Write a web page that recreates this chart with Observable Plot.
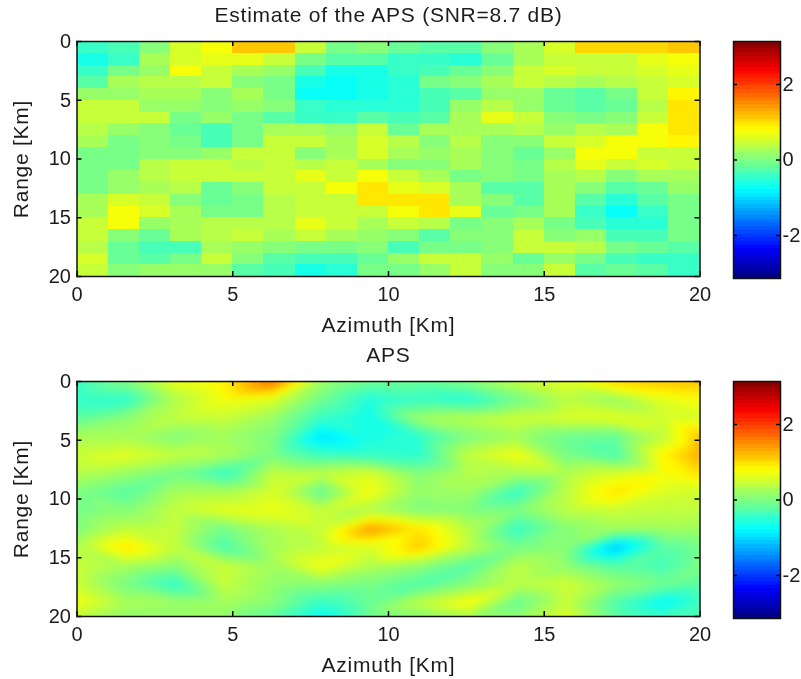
<!DOCTYPE html>
<html>
<head>
<meta charset="utf-8">
<script src="https://cdn.jsdelivr.net/npm/d3@7"></script>
<script src="https://cdn.jsdelivr.net/npm/@observablehq/plot@0.6"></script>
<style>
html,body{margin:0;padding:0;background:#fff;width:801px;height:679px;overflow:hidden}
#page{position:relative;width:801px;height:679px;filter:blur(0.35px)}
#page>svg{position:absolute;display:block;background:transparent}
</style>
</head>
<body>
<div id="page"></div>
<script>
const axisTicks = [0, 5, 10, 15, 20];
const barTicks = [-2, 0, 2];
const limit = 3.14;
const topTitle = "Estimate of the APS (SNR=8.7 dB)";
const lowerTitle = "APS";
const xLabel = "Azimuth [Km]";
const yLabel = "Range [Km]";

// Estimated APS: one row per km of range, one column per km of azimuth
const estimateRows = [
[-.45,-.3,0,.55,.78,1.15,1.15,.4,-.05,.05,-.1,-.25,-.25,0,.25,.5,1,1,1,1.1],
[-.68,-.42,.25,.52,.68,.68,.45,-.02,-.22,-.28,-.48,-.48,-.55,-.12,.2,.42,.4,.4,.62,.78],
[-.42,-.05,.15,.72,.42,.28,.15,-.3,-.62,-.62,-.4,-.3,-.1,0,.42,.58,.42,.4,.52,.6],
[-.27,.28,.35,.35,.4,.02,-.08,-.68,-.7,-.66,-.5,-.03,.02,.26,.42,.3,.26,.32,.45,.5],
[.15,.15,.2,.22,.05,.25,-.08,-.7,-.78,-.68,-.58,-.36,-.2,.12,.15,-.1,-.25,-.08,.42,.85],
[.46,.42,.16,.15,.08,.1,0,-.42,-.58,-.52,-.55,-.35,.15,.35,.17,-.1,-.25,-.12,.38,.98],
[.48,.48,.4,-.02,.12,-.03,-.25,-.4,-.4,-.22,-.36,-.28,.2,.66,.48,.02,-.05,.05,.42,.98],
[.33,.18,.02,-.1,-.35,-.03,.23,.23,.18,.42,-.1,.2,.25,.23,.32,.18,.37,.27,.72,.95],
[.27,-.03,.02,-.08,-.38,-.05,.48,.42,.27,.58,.3,.02,.37,.05,.05,.42,.55,.7,.72,.8],
[-.07,-.05,.02,.08,.14,.46,.48,.02,.23,.58,.25,.18,.27,0,-.15,.12,.74,.7,.48,.48],
[-.07,-.02,.3,.42,.45,.36,.48,.35,.43,.2,.05,.08,.2,0,-.02,.35,.6,.45,.58,.45],
[-.07,.18,.33,.4,.46,.46,.45,.6,.48,.72,.43,.27,-.07,0,-.02,.23,.37,.05,.2,.27],
[-.05,.18,.27,.3,-.1,0,.42,.48,.78,.95,.66,.53,.27,-.22,-.22,.2,.03,-.2,-.1,.13],
[.23,.58,.45,.06,-.12,-.08,.32,.4,.48,.95,.9,.9,.23,.05,-.28,.2,-.28,-.52,-.25,-.03],
[.25,.74,.58,.27,-.02,-.02,.3,.4,.43,.43,.78,.9,.66,-.18,-.08,.25,-.45,-.78,-.43,-.03],
[.48,.7,.1,.23,.35,.3,.37,.64,.45,.27,.42,.3,-.08,0,.27,-.03,-.38,-.52,-.52,-.08],
[.46,.08,-.12,.2,.3,.42,.27,.4,.2,.15,.05,-.22,.02,.05,.4,.05,.1,-.35,-.35,-.08],
[.3,-.1,-.32,-.38,.27,.12,.03,-.07,-.03,.05,-.32,-.05,-.05,.05,.42,.42,.3,-.05,-.17,-.28],
[.52,-.1,-.25,-.03,.48,0,-.28,-.35,-.36,-.15,.1,.4,.43,.1,-.15,.15,-.02,-.32,-.4,-.4],
[.42,.07,.12,.13,.15,-.25,-.36,-.62,-.52,-.03,-.03,.12,.43,.03,.02,.43,-.25,-.15,-.2,-.4]
];

// True APS sampled at these km positions on both axes
const sampleKm = [0,1.57,3.14,4.71,6.28,7.85,9.42,10.99,12.56,14.13,15.7,17.27,18.84,20];
const apsRows = [
[-.4,0,.65,.85,1.65,.2,-.1,-.15,.05,.4,.6,1.05,1.15,1.15],
[-.5,-.5,.3,.7,.55,-.1,-.6,-.45,-.55,-.1,.35,.15,.6,.75],
[-.2,.08,.4,.45,.15,-.45,-.7,.2,.35,.5,.55,.62,.5,.55],
[.25,.25,.02,.2,0,-.95,-.62,-.5,0,.2,-.12,-.18,.4,1.15],
[.47,.62,.42,.28,-.02,-.38,-.45,-.5,.42,.72,-.05,-.32,.85,1.3],
[.33,.15,-.08,-.45,.42,.4,.55,.05,.33,.25,.3,.55,.75,.95],
[-.02,-.25,.25,.27,.55,-.18,.72,.12,.2,-.45,.37,.95,.55,.5],
[-.05,.05,.42,.62,.68,.42,.3,.02,0,0,.37,.45,.4,.4],
[0,.4,.42,-.08,.27,.45,1.4,.95,.35,-.45,.05,.22,.22,.2],
[.3,.95,.42,-.32,.25,.4,.55,1.1,.4,-.05,.05,-1.15,-.25,-.08],
[.47,.25,.05,.47,.22,.72,.3,.1,-.25,.37,.1,-.25,-.35,-.03],
[.45,-.05,-.48,.42,.13,.07,-.05,-.3,.05,.37,.5,.15,-.1,-.22],
[.72,.27,.2,.23,.05,-.45,-.12,.4,.78,-.15,.42,-.3,-.8,-.42],
[.4,.12,.15,.12,-.2,-.75,-.1,.02,.22,.1,.6,-.18,-.38,-.3]
];

// MATLAB jet with 64 levels, used by both maps and both colour bars
const levels = 64;
const clamp = v => Math.max(0, Math.min(1, v));
const jet = t => d3.rgb(
  255 * clamp(1.5 - Math.abs(4 * t - 3)),
  255 * clamp(1.5 - Math.abs(4 * t - 2)),
  255 * clamp(1.5 - Math.abs(4 * t - 1))
).formatHex();
const jetRange = d3.range(levels).map(i => jet((i + 0.5) / levels));
const levelEdges = d3.range(levels + 1).map(i => -limit + 2 * limit * i / levels);
const colorScale = {type: "threshold", domain: levelEdges.slice(1, -1), range: jetRange};

const estimateCells = estimateRows.flatMap((row, r) => row.map((v, c) => ({c, r, v})));
const apsSamples = apsRows.flatMap((row, r) => row.map((v, c) => ({x: sampleKm[c], y: sampleKm[r], v})));
const barCells = d3.range(levels).map(i => ({lo: levelEdges[i], hi: levelEdges[i + 1], mid: (levelEdges[i] + levelEdges[i + 1]) / 2}));

const ink = "#1c1c1c";
const font = {fontFamily: "'Liberation Sans', Arial, sans-serif", fontSize: "20px", background: "transparent", color: ink};
const labelFont = {fontSize: 21};
const panelW = 730, panelH = 340, mL = 76.5, mR = 30.5, mT = 41, mB = 64;
const innerW = panelW - mL - mR, innerH = panelH - mT - mB, tickLen = 5;

function widen(svg) {
  // the reference's labels are set slightly wider than the tick numbers
  svg.querySelectorAll("[aria-label='x-axis label'] text, [aria-label='y-axis label'] text, [aria-label='text'] text")
    .forEach(t => t.setAttribute("letter-spacing", "0.75"));
  svg.querySelectorAll("[aria-label='x-axis tick label'] text, [aria-label='y-axis tick label'] text")
    .forEach(t => t.setAttribute("font-size", "20"));
  return svg;
}

function panel(dataMark, title) {
  return widen(Plot.plot({
    width: panelW, height: panelH,
    marginLeft: mL, marginRight: mR, marginTop: mT, marginBottom: mB,
    style: font,
    x: {domain: [0, 20]},
    y: {domain: [0, 20], reverse: true},
    color: colorScale,
    marks: [
      dataMark,
      Plot.axisX({ticks: axisTicks, tickSize: 0, tickPadding: 10, label: xLabel, labelAnchor: "center", labelArrow: "none", labelOffset: 55, ...labelFont}),
      Plot.axisY({ticks: axisTicks, tickSize: 0, tickPadding: 6, label: yLabel, labelAnchor: "center", labelArrow: "none", labelOffset: 64, ...labelFont}),
      Plot.tickX(axisTicks, {x: d => d, insetTop: innerH - tickLen, stroke: "#000", strokeWidth: 1.5}),
      Plot.tickX(axisTicks, {x: d => d, insetBottom: innerH - tickLen, stroke: "#000", strokeWidth: 1.5}),
      Plot.tickY(axisTicks, {y: d => d, insetLeft: 0, insetRight: innerW - tickLen, stroke: "#000", strokeWidth: 1.5}),
      Plot.tickY(axisTicks, {y: d => d, insetRight: 0, insetLeft: innerW - tickLen, stroke: "#000", strokeWidth: 1.5}),
      Plot.frame({stroke: "#111", strokeWidth: 1.5}),
      Plot.text([title], {text: d => d, frameAnchor: "top", dy: -34, fill: ink, fontSize: 21})
    ]
  }));
}

function colorBar() {
  const w = 71, l = 3, r = 21, h = 340, t = 41, b = 62;
  return Plot.plot({
    width: w, height: h, marginLeft: l, marginRight: r, marginTop: t, marginBottom: b,
    style: font,
    x: {domain: [0, 1], axis: null},
    y: {domain: [-limit, limit]},
    color: colorScale,
    marks: [
      Plot.rect(barCells, {x1: 0, x2: 1, y1: "lo", y2: "hi", fill: "mid", shapeRendering: "crispEdges"}),
      Plot.axisY({anchor: "right", ticks: barTicks, tickSize: 0, tickPadding: 2, label: null, tickFormat: d => String(d)}),
      Plot.tickY(barTicks, {y: d => d, insetRight: w - l - r - 4, stroke: "#000", strokeWidth: 1.5}),
      Plot.tickY(barTicks, {y: d => d, insetLeft: w - l - r - 4, stroke: "#000", strokeWidth: 1.5}),
      Plot.frame({stroke: "#111", strokeWidth: 1.5})
    ]
  });
}

const page = document.getElementById("page");
function place(node, left, top) {
  node.style.left = left + "px";
  node.style.top = top + "px";
  page.appendChild(node);
}

place(panel(
  Plot.rect(estimateCells, {x1: "c", x2: d => d.c + 1, y1: "r", y2: d => d.r + 1, fill: "v", shapeRendering: "crispEdges"}),
  topTitle
), 0, 0);
place(colorBar(), 730, 0);
place(panel(
  Plot.raster(apsSamples, {x: "x", y: "y", fill: "v", interpolate: "barycentric", pixelSize: 1, blur: 3}),
  lowerTitle
), 0, 340);
place(colorBar(), 730, 340);
</script>
</body>
</html>
